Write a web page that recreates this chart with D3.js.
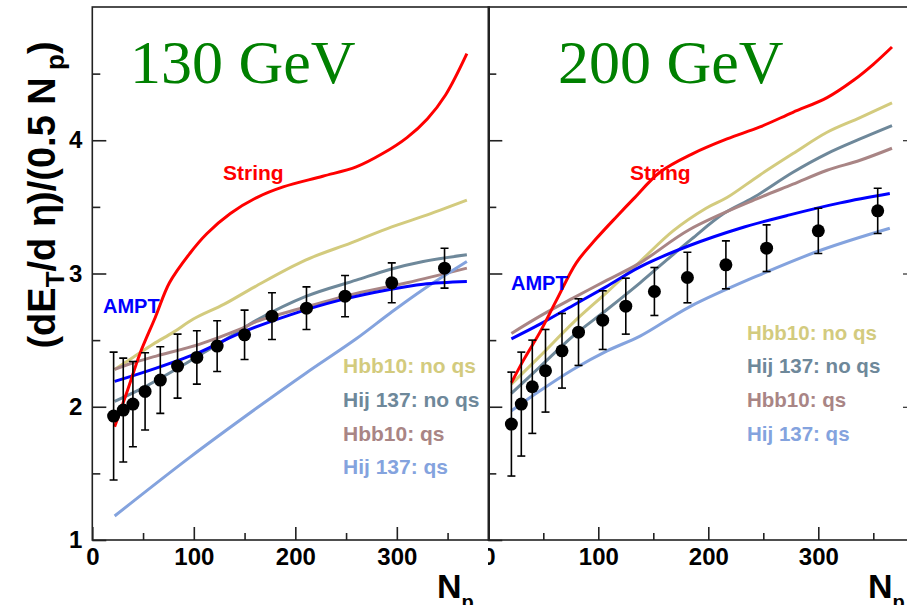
<!DOCTYPE html>
<html>
<head>
<meta charset="utf-8">
<script src="https://cdn.jsdelivr.net/npm/d3@7"></script>
<style>
  body { margin: 0; background: #ffffff; }
  text { font-family: "Liberation Sans", Arial, Helvetica, sans-serif; }
</style>
</head>
<body>
<svg id="chart" width="907" height="605"></svg>
<script>
// ---- tick labels ----
const xMajorTicks = [0, 100, 200, 300];
const xMinorTicks = [50, 150, 250, 350];
const yMajorTicks = [1, 2, 3, 4];
const yMinorTicks = [1.5, 2.5, 3.5, 4.5];

// ---- legend / model names ----
const modelNames = ["Hbb10: no qs", "Hij 137: no qs", "Hbb10: qs", "Hij 137: qs"];
const modelColors = ["#d3cb7e", "#6e889a", "#a98585", "#84a3de"];

// ---- 130 GeV measurements: Npart, value, error ----
const np130 = [21, 30.5, 40, 52, 67, 84, 103, 123, 150, 177, 211, 249, 295, 347];
const val130 = [1.93, 1.975, 2.02, 2.115, 2.2, 2.305, 2.37, 2.455, 2.54, 2.68, 2.74, 2.83, 2.93, 3.04];
const err130 = [0.48, 0.39, 0.32, 0.29, 0.25, 0.24, 0.2, 0.19, 0.185, 0.175, 0.16, 0.155, 0.15, 0.15];

// ---- 200 GeV measurements ----
const np200 = [21, 30, 40, 52, 67, 82, 104, 125, 151, 181, 216, 253, 300, 354];
const val200 = [1.87, 2.02, 2.15, 2.27, 2.42, 2.56, 2.65, 2.755, 2.865, 2.97, 3.065, 3.19, 3.32, 3.47];
const err200 = [0.39, 0.39, 0.35, 0.31, 0.28, 0.25, 0.22, 0.21, 0.18, 0.19, 0.18, 0.175, 0.17, 0.17];

// ---- 130 GeV model curves [Npart, value] ----
const string130 = [[22,1.85],[35,2.13],[47,2.40],[62,2.67],[76,2.93],[96,3.15],[113,3.30],[136,3.45],[162,3.57],[188,3.65],[227,3.73],[260,3.80],[286,3.90],[310,4.02],[330,4.16],[348,4.34],[369,4.65]];
const ampt130 = [[22,2.19],[63,2.29],[106,2.41],[145,2.55],[195,2.69],[244,2.80],[293,2.88],[326,2.92],[369,2.94]];
const hbbNoQs130 = [[22,2.28],[40,2.37],[60,2.47],[80,2.56],[100,2.66],[130,2.77],[160,2.90],[210,3.10],[255,3.23],[295,3.35],[330,3.44],[369,3.55]];
const hijNoQs130 = [[22,2.04],[47,2.13],[80,2.27],[113,2.42],[139,2.54],[162,2.65],[211,2.83],[260,2.95],[293,3.03],[326,3.09],[369,3.14]];
const hbbQs130 = [[22,2.28],[40,2.33],[63,2.38],[106,2.47],[145,2.58],[162,2.64],[211,2.75],[260,2.85],[310,2.93],[369,3.04]];
const hijQs130 = [[22,1.18],[96,1.62],[162,1.99],[210,2.25],[260,2.51],[293,2.70],[326,2.88],[369,3.09]];

// ---- 200 GeV model curves ----
const string200 = [[21,2.18],[32,2.35],[47,2.56],[62,2.80],[80,3.08],[98,3.26],[117,3.43],[132,3.56],[156,3.76],[186,3.90],[217,4.01],[247,4.10],[277,4.21],[308,4.32],[332,4.45],[350,4.57],[367,4.70]];
const ampt200 = [[21,2.51],[47,2.62],[77,2.76],[107,2.90],[138,3.05],[183,3.21],[229,3.34],[274,3.44],[320,3.53],[365,3.60]];
const hbbNoQs200 = [[21,2.17],[47,2.38],[77,2.63],[108,2.86],[138,3.09],[168,3.32],[198,3.49],[217,3.57],[247,3.74],[277,3.90],[308,4.06],[338,4.17],[367,4.28]];
const hijNoQs200 = [[21,2.10],[47,2.30],[77,2.53],[108,2.73],[138,2.93],[162,3.10],[185,3.26],[214,3.45],[241,3.57],[277,3.76],[308,3.90],[338,4.01],[367,4.11]];
const hbbQs200 = [[21,2.55],[47,2.68],[77,2.815],[108,2.95],[138,3.08],[183,3.33],[244,3.56],[277,3.67],[308,3.775],[338,3.85],[367,3.94]];
const hijQs200 = [[21,1.97],[47,2.12],[77,2.28],[108,2.42],[138,2.53],[183,2.75],[244,2.98],[304,3.18],[365,3.34]];

const svg = d3.select("#chart");
const y = d3.scaleLinear().domain([1, 5]).range([540, 7]);

const panels = [
  {
    key: "p130", title: "130 GeV", titleX: 130,
    x: d3.scaleLinear().domain([0, 391]).range([92.3, 489.2]),
    right: 489.2,
    np: np130, val: val130, err: err130,
    curves: [hbbNoQs130, hijNoQs130, hbbQs130, hijQs130, ampt130, string130],
    stringLabel: [223, 180], amptLabel: [103, 312.5],
    legendX: 343, legendY: [373, 407, 441, 474], legendSize: 21,
    nX: 437
  },
  {
    key: "p200", title: "200 GeV", titleX: 558,
    x: d3.scaleLinear().domain([0, 381]).range([488.3, 907.4]),
    right: 908,
    np: np200, val: val200, err: err200,
    curves: [hbbNoQs200, hijNoQs200, hbbQs200, hijQs200, ampt200, string200],
    stringLabel: [630, 180], amptLabel: [511, 290],
    legendX: 747, legendY: [340, 373, 407, 441], legendSize: 20.5,
    nX: 868
  }
];
const curveColors = modelColors.concat(["#0000ff", "#ff0000"]);

const defs = svg.append("defs");

panels.forEach((p, pi) => {
  const x = p.x;
  const left = x.range()[0];
  const g = svg.append("g").attr("class", p.key);

  defs.append("clipPath").attr("id", "clip-" + p.key)
    .append("rect").attr("x", left).attr("y", 7)
    .attr("width", p.right - left).attr("height", 533);

  // title
  g.append("text")
    .attr("x", p.titleX).attr("y", 83)
    .style("font-family", "'Liberation Serif', 'Times New Roman', serif")
    .style("font-size", "62px")
    .attr("fill", "#008000")
    .text(p.title);

  // model curves
  const line = d3.line().x(d => x(d[0])).y(d => y(d[1])).curve(d3.curveCatmullRom.alpha(0.5));
  const cg = g.append("g").attr("clip-path", `url(#clip-${p.key})`);
  p.curves.forEach((c, i) => {
    cg.append("path").attr("d", line(c))
      .attr("fill", "none").attr("stroke", curveColors[i])
      .attr("stroke-width", 3).attr("stroke-linejoin", "round");
  });

  // measured points with error bars
  const pts = p.np.map((n, i) => ({ n, v: p.val[i], e: p.err[i] }));
  const pg = g.append("g").attr("clip-path", `url(#clip-${p.key})`);
  const eb = pg.selectAll("g.eb").data(pts).join("g").attr("class", "eb")
    .attr("stroke", "#000").attr("stroke-width", 1.6);
  eb.append("line").attr("x1", d => x(d.n)).attr("x2", d => x(d.n))
    .attr("y1", d => y(d.v + d.e)).attr("y2", d => y(d.v - d.e));
  eb.append("line").attr("x1", d => x(d.n) - 4).attr("x2", d => x(d.n) + 4)
    .attr("y1", d => y(d.v + d.e)).attr("y2", d => y(d.v + d.e));
  eb.append("line").attr("x1", d => x(d.n) - 4).attr("x2", d => x(d.n) + 4)
    .attr("y1", d => y(d.v - d.e)).attr("y2", d => y(d.v - d.e));
  pg.selectAll("circle").data(pts).join("circle")
    .attr("cx", d => x(d.n)).attr("cy", d => y(d.v)).attr("r", 6.5).attr("fill", "#000");

  // in-plot labels
  g.append("text").attr("x", p.stringLabel[0]).attr("y", p.stringLabel[1])
    .attr("fill", "#ff0000").style("font-weight", "bold").style("font-size", "21px").text("String");
  g.append("text").attr("x", p.amptLabel[0]).attr("y", p.amptLabel[1])
    .attr("fill", "#0000ff").style("font-weight", "bold").style("font-size", "20px").text("AMPT");

  modelNames.forEach((name, i) => {
    g.append("text").attr("x", p.legendX).attr("y", p.legendY[i])
      .attr("fill", modelColors[i]).style("font-weight", "bold")
      .style("font-size", p.legendSize + "px").text(name);
  });

  // frame
  g.append("rect").attr("x", left).attr("y", 7)
    .attr("width", p.right - left).attr("height", 533)
    .attr("fill", "none").attr("stroke", "#222").attr("stroke-width", 1.6);

  // x axis (ticks point inward)
  const xAxisG = g.append("g").attr("transform", "translate(0,540)");
  const xMajor = d3.axisBottom(x).tickValues(xMajorTicks).tickSizeInner(-13).tickSizeOuter(0).tickPadding(8);
  const xMinor = d3.axisBottom(x).tickValues(xMinorTicks).tickSizeInner(-7).tickSizeOuter(0).tickFormat("");
  const xm = xAxisG.append("g").call(xMajor);
  xAxisG.append("g").call(xMinor);
  if (pi === 1) {
    defs.append("clipPath").attr("id", "clipx-" + p.key)
      .append("rect").attr("x", 488).attr("y", -20).attr("width", 430).attr("height", 80);
    xm.attr("clip-path", `url(#clipx-${p.key})`);
  }
  xm.selectAll("text").style("font-size", "24px").style("font-weight", "bold").attr("fill", "#000");

  // y axis (ticks point inward)
  const yAxisG = g.append("g").attr("transform", `translate(${left},0)`);
  const yMajor = d3.axisLeft(y).tickValues(yMajorTicks).tickSizeInner(-14).tickSizeOuter(0).tickPadding(10)
    .tickFormat(pi === 0 ? d3.format("d") : "");
  yAxisG.append("g").call(yMajor);
  yAxisG.append("g").call(d3.axisLeft(y).tickValues(yMinorTicks).tickSizeInner(-8).tickSizeOuter(0).tickFormat(""));
  yAxisG.selectAll("text").style("font-size", "24px").style("font-weight", "bold").attr("fill", "#000");

  if (pi === 1) {
    const yr = g.append("g").attr("transform", "translate(908,0)");
    yr.call(d3.axisLeft(y).tickValues([2, 3, 4]).tickSizeInner(5).tickSizeOuter(0).tickFormat(""));
  }

  [xAxisG, yAxisG].forEach(a => {
    a.selectAll(".domain").remove();
    a.selectAll("line").attr("stroke", "#222").attr("stroke-width", 1.6);
  });

  // x axis title: N with subscript p
  const nt = g.append("text").attr("x", p.nX).attr("y", 598)
    .style("font-weight", "bold").style("font-size", "34px").attr("fill", "#000");
  nt.append("tspan").text("N");
  nt.append("tspan").attr("dy", 11).style("font-size", "20px").text("p");
});

// y axis title
const yt = svg.append("text")
  .attr("transform", "translate(55,195) rotate(-90)")
  .attr("text-anchor", "middle")
  .style("font-weight", "bold").style("font-size", "38px").attr("fill", "#000");
yt.append("tspan").text("(dE");
yt.append("tspan").attr("dy", 9).style("font-size", "26px").text("T");
yt.append("tspan").attr("dy", -9).text("/d η)/(0.5 N");
yt.append("tspan").attr("dy", 9).style("font-size", "26px").text(" p");
yt.append("tspan").attr("dy", -9).text(")");
</script>
</body>
</html>
